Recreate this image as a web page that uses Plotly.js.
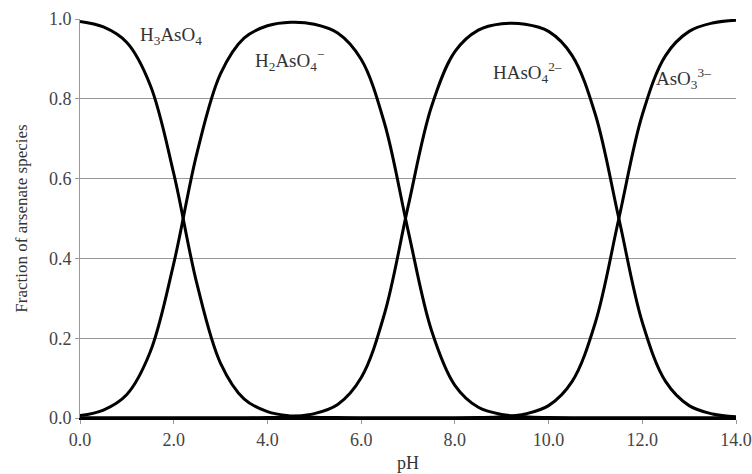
<!DOCTYPE html>
<html>
<head>
<meta charset="utf-8">
<script src="https://cdn.plot.ly/plotly-3.0.1.min.js"></script>
<style>html,body{margin:0;padding:0;background:#fff;}#chart{width:752px;height:474px;}</style>
</head>
<body>
<div id="chart"></div>
<script>
var pH = [0.0,0.5,1.0,1.5,2.0,2.5,3.0,3.5,4.0,4.5,5.0,5.5,6.0,6.5,7.0,7.5,8.0,8.5,9.0,9.5,10.0,10.5,11.0,11.5,12.0,12.5,13.0,13.5,14.0];
var H3AsO4  = [0.994,0.980,0.941,0.834,0.613,0.334,0.137,0.048,0.016,0.005,0.002,0.001,0.000,0.000,0.000,0.000,0.000,0.000,0.000,0.000,0.000,0.000,0.000,0.000,0.000,0.000,0.000,0.000,0.000];
var H2AsO4  = [0.006,0.020,0.059,0.166,0.387,0.666,0.863,0.952,0.983,0.992,0.987,0.965,0.899,0.738,0.471,0.220,0.082,0.027,0.009,0.003,0.001,0.000,0.000,0.000,0.000,0.000,0.000,0.000,0.000];
var HAsO4   = [0.000,0.000,0.000,0.000,0.000,0.000,0.000,0.000,0.001,0.004,0.011,0.034,0.101,0.262,0.529,0.780,0.918,0.972,0.988,0.987,0.969,0.909,0.760,0.500,0.240,0.091,0.031,0.010,0.003];
var AsO3    = [0.000,0.000,0.000,0.000,0.000,0.000,0.000,0.000,0.000,0.000,0.000,0.000,0.000,0.000,0.000,0.000,0.000,0.001,0.003,0.010,0.031,0.091,0.240,0.500,0.760,0.909,0.969,0.990,0.997];
var xTicks = [0,2,4,6,8,10,12,14];
var yTicks = [0,0.2,0.4,0.6,0.8,1.0];
var labelText = ["H<sub>3</sub>AsO<sub>4</sub>","H<sub>2</sub>AsO<sub>4</sub><sup>\u2212</sup>","HAsO<sub>4</sub><sup>2\u2013</sup>","AsO<sub>3</sub><sup>3\u2013</sup>"];
var labelX = [1.94,4.48,9.56,12.87];
var labelY = [0.958,0.897,0.867,0.852];

var series = [H3AsO4,H2AsO4,HAsO4,AsO3];
var traces = series.map(function(s){
  return {x:pH, y:s, mode:'lines', line:{color:'#000', width:3, shape:'spline', smoothing:1}, hoverinfo:'skip', showlegend:false, cliponaxis:false};
});
var serif = 'Liberation Serif, Times New Roman, serif';
var ann = labelText.map(function(t,i){
  return {x:labelX[i], y:labelY[i], xref:'x', yref:'y', text:t, showarrow:false, font:{family:serif, size:19, color:'#333'}};
});
var fnt = {family:serif, size:18, color:'#444'};
var layout = {
  width:752, height:474,
  margin:{l:80, r:16, t:19, b:56},
  paper_bgcolor:'#fff', plot_bgcolor:'#fff',
  font:fnt,
  xaxis:{range:[0,14], tickvals:xTicks, tickformat:'.1f', showgrid:false, zeroline:false,
    showline:true, linecolor:'#000', linewidth:2, ticks:'outside', ticklen:4, tickcolor:'#999',
    title:{text:'pH', font:{family:serif, size:18, color:'#333'}, standoff:8}, tickfont:fnt, fixedrange:true},
  yaxis:{range:[0,1], tickvals:yTicks, tickformat:'.1f', showgrid:true, gridcolor:'#999', gridwidth:1,
    zeroline:false, showline:true, linecolor:'#999', linewidth:1, ticks:'outside', ticklen:4, tickcolor:'#999',
    title:{text:'Fraction of arsenate species', font:{family:serif, size:17, color:'#333'}, standoff:16}, tickfont:fnt, fixedrange:true},
  annotations:ann
};
Plotly.newPlot('chart', traces, layout, {staticPlot:true, displayModeBar:false});
</script>
</body>
</html>
